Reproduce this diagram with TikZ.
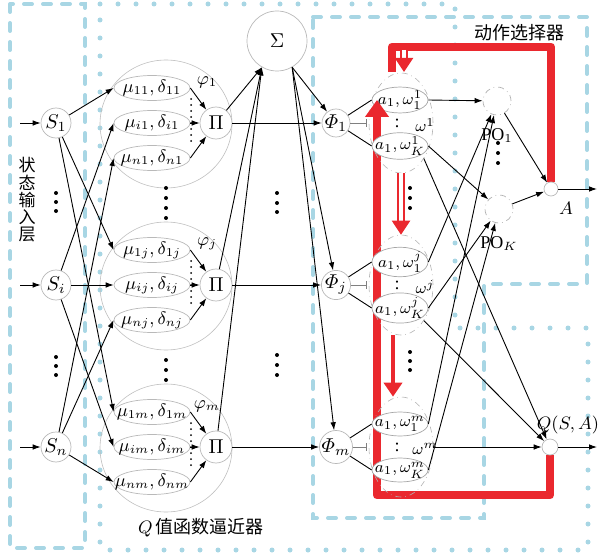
\documentclass[tikz,border=0pt]{standalone}
\usepackage[no-math]{fontspec}
\usepackage{amsmath}
\setmainfont{Liberation Serif}
\newfontfamily\cjk{Noto Sans CJK SC}
\usetikzlibrary{shapes.geometric,arrows.meta,positioning}
\definecolor{boxblue}{RGB}{168,214,228}
\definecolor{fbred}{RGB}{234,40,46}
\newcommand\tbox[1]{\makebox[0pt]{#1}}
\pgfdeclarelayer{back}
\pgfsetlayers{back,main}
\tikzset{
  arr/.style={-{Latex[length=4pt,width=2.8pt]},line width=0.45pt},
  unit/.style={circle,draw=gray!55,line width=0.35pt,fill=white,inner sep=0pt},
  memb/.style={ellipse,draw=gray!55,line width=0.35pt,fill=white,inner sep=0pt,minimum width=38pt,minimum height=12.5pt},
  act/.style={ellipse,draw=gray!70,line width=0.35pt,fill=white,inner sep=0pt,minimum width=28pt,minimum height=12pt,font=\fontsize{8.5}{10}\selectfont},
  grpc/.style={ellipse,draw=gray!50,line width=0.3pt,minimum width=66pt,minimum height=64pt},
  actg/.style={ellipse,draw=gray!60,line width=0.3pt,dash dot,minimum width=32pt,minimum height=50pt},
  bluedash/.style={draw=boxblue,line width=2pt,dash pattern=on 4pt off 5.5pt,line cap=round},
  bluedot/.style={draw=boxblue,line width=2.5pt,dash pattern=on 0pt off 9pt,line cap=round},
  fbline/.style={draw=fbred,line width=4pt,line join=round},
  fbdbl/.style={draw=fbred,line width=1.1pt,double=white,double distance=1.6pt,-{Triangle[length=7pt,width=9pt]}},
  fbsgl/.style={draw=fbred,line width=2.2pt,-{Triangle[length=7pt,width=9pt]}}
}
\begin{document}
\begin{tikzpicture}[x=0.5pt,y=-0.5pt,font=\fontsize{9}{10.5}\selectfont]
  \useasboundingbox (0,0) rectangle (600,556);

  % state input layer
  \node[unit,minimum size=15pt,font=\fontsize{10}{12}\selectfont] (s1) at (56,123) {$S_1$};
  \node[unit,minimum size=15pt,font=\fontsize{10}{12}\selectfont] (si) at (56,285) {$S_i$};
  \node[unit,minimum size=15pt,font=\fontsize{10}{12}\selectfont] (sn) at (56,447) {$S_n$};
  \foreach \s/\y in {1/123,i/285,n/447}{
    \coordinate (in\s) at (20,\y);
    \draw[arr] (in\s) -- (s\s);
  }
  \node[align=center,font=\cjk\fontsize{8.5}{8.6}\selectfont] (inlbl) at (27,200) {状\\态\\输\\入\\层};

  \node[unit,minimum size=30pt,font=\fontsize{10}{12}\selectfont] (sum) at (277,41) {$\Sigma$};

  % action selector outputs
  \node[unit,draw=gray!60,dash dot,minimum size=14pt] (po1) at (497,101) {};
  \node[unit,draw=gray!60,dash dot,minimum size=14pt] (poK) at (499,209) {};
  \node[below=3pt of po1] (po1l) {PO$_1$};
  \node[below=3pt of poK] (poKl) {PO$_K$};
  \node[unit,minimum size=7pt] (act) at (551,189) {};
  \node (actl) at (566,208) {$A$};
  \node[unit,minimum size=8pt] (q) at (550,447) {};
  \node (ql) at (568,425) {$Q(S,A)$};
  \coordinate (outA) at (597,189);
  \coordinate (outQ) at (597,447);
  \draw[arr] (act) -- (outA);
  \draw[arr] (q) -- (outQ);
  \draw[arr] (po1) -- (act);
  \draw[arr] (poK) -- (act);

  % fuzzy rules, normalisation and action sets
  \foreach \g/\y/\wa in {1/123/south east,j/285/south east,m/447/east}{
    \node[grpc] (grp\g) at (166,\y+1) {};
    \node[memb] (u1\g) at (152,\y-35) {\tbox{$\mu_{1\g},\delta_{1\g}$}};
    \node[memb] (ui\g) at (152,\y) {\tbox{$\mu_{i\g},\delta_{i\g}$}};
    \node[memb] (un\g) at (152,\y+35) {\tbox{$\mu_{n\g},\delta_{n\g}$}};
    \node[unit,minimum size=16pt,font=\fontsize{10}{12}\selectfont] (pi\g) at (216,\y) {$\Pi$};
    \node (phl\g) at (207,\y-41) {$\varphi_{\g}$};
    \node[unit,minimum size=14pt,font=\fontsize{10}{12}\selectfont] (phi\g) at (336,\y) {$\varPhi_{\g}$};
    \node[actg] (w\g) at (401,\y) {};
    \node[act] (a1\g) at (400,\y-23) {\tbox{$a_1,\omega_1^{\g}$}};
    \node[act] (aK\g) at (400,\y+23) {\tbox{$a_1,\omega_K^{\g}$}};
    \node[inner sep=0pt] (col\g) at (397,\y) {:};
    \node[inner sep=0pt,font=\fontsize{8.5}{10}\selectfont] (wl\g) at (425,\y+2) {$\omega^{\g}$};
    \coordinate (tick\g) at (367,\y);
    \draw[line width=1pt,dash pattern=on 0pt off 3pt,line cap=round] (191,\y-24) -- (191,\y+22);
    \draw[arr] (u1\g.east) -- (pi\g);
    \draw[arr] (ui\g.east) -- (pi\g);
    \draw[arr] (un\g.east) -- (pi\g);
    \draw[arr] (pi\g) -- (phi\g);
    \draw[arr] (pi\g) -- (sum.240);
    \draw[arr] (sum.300) -- (phi\g);
    \draw[line width=0.45pt] (phi\g) -- (a1\g.west);
    \draw[line width=0.45pt] (phi\g) -- (aK\g.west);
    \draw[gray,line width=0.3pt,-{Bar[width=4pt]}] (phi\g) -- (tick\g);
    \draw[arr] (a1\g.east) -- (po1);
    \draw[arr] (aK\g.east) -- (poK);
    \draw[arr] (w\g.\wa) -- (q);
  }

  % states to membership functions
  \foreach \s in {1,i,n}
    \foreach \g in {1,j,m}
      \draw[arr] (s\s) -- (u\s\g.west);

  % dots
  \foreach \x/\y in {56/193,56/202,56/211,56/357,56/366,56/375,166/188,166/198,166/208,166/218,166/360,166/370,166/380,277/193,277/203,277/212,277/355,277/365,277/375,410/188,410/198,410/208,410/352,410/361,410/370,498/143,498/153,498/163}
    \fill (\x,\y) circle (1pt);

  \node[font=\cjk\fontsize{9}{10}\selectfont] (asl) at (519,33) {动作选择器};
  \node (qal) at (201,528) {$Q$\,{\cjk\fontsize{9}{10}\selectfont 值函数逼近器}};

  % feedback
  \coordinate (fbtop) at (377,126);
  \coordinate (fbtip) at (377,100);
  \coordinate (topend) at (392,72);
  \coordinate (dbl0) at (404,50);
  \coordinate (dbl1) at (404,72);
  \begin{pgfonlayer}{back}
    \draw[bluedash] (10,4) rectangle (85,548);
    \draw[bluedot] (100,4) -- (455,4) -- (455,328) -- (588,328) -- (588,550) -- (100,550) -- cycle;
    \draw[bluedash] (313,17) -- (587,17) -- (587,284) -- (484,284) -- (484,518) -- (313,518) -- cycle;
    \draw[fbline] (q.south) -- ++(0,40) -| (fbtop);
    \draw[fbline] (act.north) -- ++(0,-135) -| (topend);
  \end{pgfonlayer}
  \draw[fbline,-{Triangle[length=8.5pt,width=11.5pt]}] (fbtop) -- (fbtip);
  \draw[fbdbl] (dbl0) -- (dbl1);
  \draw[fbdbl] (w1.south) -- (wj.north);
  \draw[fbsgl] ([xshift=-4pt]wj.south) -- ([xshift=-4pt]wm.north);
\end{tikzpicture}
\end{document}
